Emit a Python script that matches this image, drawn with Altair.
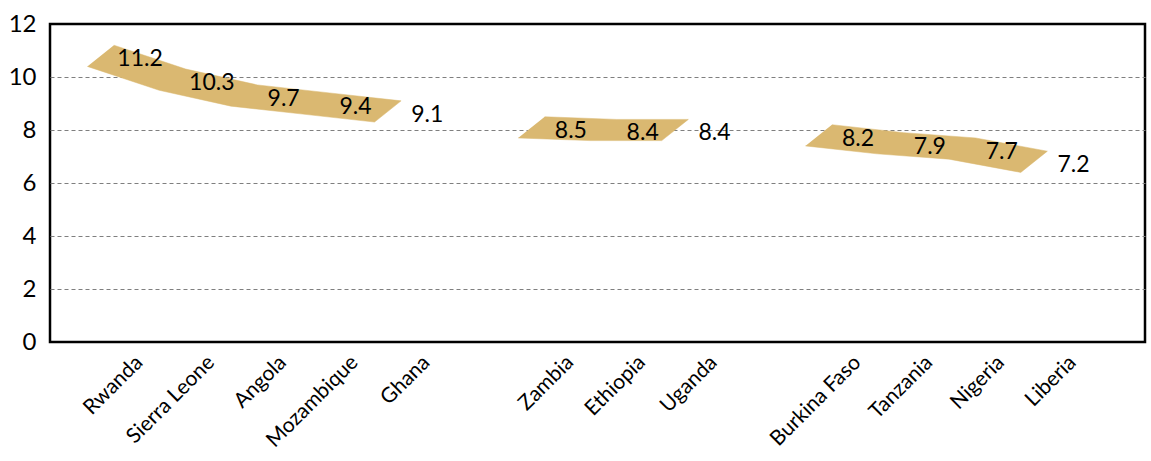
import altair as alt
import pandas as pd

countries = ["Rwanda", "Sierra Leone", "Angola", "Mozambique", "Ghana",
             "Zambia", "Ethiopia", "Uganda",
             "Burkina Faso", "Tanzania", "Nigeria", "Liberia"]
values = [11.2, 10.3, 9.7, 9.4, 9.1, 8.5, 8.4, 8.4, 8.2, 7.9, 7.7, 7.2]
groups = [1, 1, 1, 1, 1, 2, 2, 2, 3, 3, 3, 3]
y_ticks = [0, 2, 4, 6, 8, 10, 12]

# slot index along the axis: one empty slot between groups
slots = [i + g - 1 for i, g in enumerate(groups)]
pts = pd.DataFrame({"country": countries, "value": values,
                    "group": groups, "slot": slots})

# 3D ribbon depth (style)
BACK_DX, FRONT_DX, DEPTH_DY = -0.35, -0.72, 0.8
rows = []
for g in sorted(set(groups)):
    sub = pts[pts.group == g]
    k = 0
    for _, r in sub.iterrows():
        rows.append({"group": g, "k": k, "x": r.slot + BACK_DX, "y": r.value})
        k += 1
    for _, r in sub.iloc[::-1].iterrows():
        rows.append({"group": g, "k": k, "x": r.slot + FRONT_DX, "y": r.value - DEPTH_DY})
        k += 1
ribbon = pd.DataFrame(rows)

label_arr = []
for s in range(max(slots) + 1):
    label_arr.append(countries[slots.index(s)] if s in slots else "")
label_expr = "[" + ",".join("'" + n + "'" for n in label_arr) + "][datum.value]"

FONT = "Lato"
xscale = alt.Scale(domain=[-1.24, 14.01], nice=False, zero=False)
yscale = alt.Scale(domain=[0, 12], nice=False)

xaxis = alt.Axis(values=slots, labelExpr=label_expr, labelAngle=315,
                 labelAlign="right", labelBaseline="middle", labelPadding=17,
                 ticks=False, grid=False, domain=False, title=None,
                 labelFont=FONT, labelFontSize=21, labelColor="black",
                 labelOverlap=False)
yaxis = alt.Axis(values=y_ticks, ticks=False, domain=False, title=None,
                 labelFont=FONT, labelFontSize=24, labelColor="black",
                 labelPadding=14, grid=True, gridColor="#7f7f7f",
                 gridDash=[4, 3], gridWidth=1,
                 gridOpacity=alt.ExprRef("datum.value > 0 && datum.value < 12 ? 1 : 0"))

band = alt.Chart(ribbon).mark_line(
    fill="#DAB871", stroke="#DAB871", strokeWidth=0.5, interpolate="linear"
).encode(
    x=alt.X("x:Q", scale=xscale, axis=xaxis),
    y=alt.Y("y:Q", scale=yscale, axis=yaxis),
    detail="group:N",
    order="k:Q",
)

labels = alt.Chart(pts).mark_text(
    font=FONT, fontSize=23, color="black", dy=14, dx=1, baseline="middle"
).encode(
    x=alt.X("slot:Q", scale=xscale),
    y=alt.Y("value:Q", scale=yscale),
    text=alt.Text("value:Q", format=".1f"),
)

chart = alt.layer(band, labels).properties(
    width=1095, height=318,
    autosize=alt.AutoSizeParams(type="none"),
    padding={"left": 50, "top": 24, "right": 6, "bottom": 119},
    background="white",
).configure_view(stroke="black", strokeWidth=2.5)

chart.save("out.html", embed_options={"renderer": "svg", "actions": False})
